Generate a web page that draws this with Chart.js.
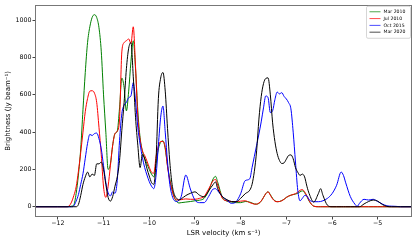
<!DOCTYPE html>
<html>
<head>
<meta charset="utf-8">
<script src="https://cdn.jsdelivr.net/npm/chart.js@4.4.0/dist/chart.umd.min.js"></script>
<style>
  html, body { margin: 0; padding: 0; background: #fff; }
  #wrap { width: 415px; height: 242px; }
</style>
</head>
<body>
<div id="wrap"><canvas id="spectrum" width="415" height="242"></canvas></div>
<script>
// LSR velocity grid (km/s), finer where the lines move fast
const velocity = [
  -12.5, -12.0, -11.8,
  -11.75, -11.7, -11.65, -11.6, -11.55, -11.5, -11.45, -11.4, -11.35, -11.3,
  -11.25, -11.2, -11.15, -11.1, -11.05, -11.0, -10.95, -10.9, -10.85, -10.8,
  -10.75, -10.7, -10.65, -10.6, -10.55, -10.5, -10.45, -10.4, -10.35, -10.3,
  -10.25, -10.2, -10.15, -10.1, -10.05, -10.0, -9.95, -9.9, -9.85, -9.8,
  -9.75, -9.7, -9.65, -9.6, -9.55, -9.5, -9.45, -9.4, -9.35, -9.3,
  -9.2, -9.1, -9.0, -8.9, -8.8, -8.7, -8.6, -8.55, -8.5, -8.4, -8.3, -8.2,
  -8.1, -8.0, -7.9, -7.8,
  -7.75, -7.7, -7.65, -7.6, -7.55, -7.5, -7.45, -7.4, -7.35, -7.3, -7.25, -7.2,
  -7.15, -7.1, -7.05, -7.0, -6.95, -6.9, -6.85, -6.8, -6.75, -6.7, -6.65, -6.6,
  -6.55, -6.5,
  -6.4, -6.3, -6.25, -6.2, -6.1, -6.0, -5.9, -5.8, -5.75, -5.7, -5.6, -5.5,
  -5.45, -5.4, -5.3, -5.2, -5.1, -5.0, -4.9, -4.8, -4.7, -4.6, -4.5, -4.25
];

const mar2010 = [
  0, 0, 0,
  1, 3, 10, 70, 170, 310, 520, 720, 880, 965,
  1015, 1030, 1015, 960, 834, 600, 400, 200, 230, 330,
  392, 405, 530, 690, 640, 514, 620, 780, 890, 740,
  514, 370, 300, 260, 230, 200, 175, 160, 230, 310,
  345, 354, 310, 220, 150, 90, 50, 28, 20, 22,
  25, 28, 32, 35, 45, 85, 150, 163, 130, 50, 30, 25,
  22, 22, 28, 25,
  20, 15, 14, 18, 30, 50, 70, 80, 65, 45, 32, 27,
  28, 33, 40, 50, 57, 62, 65, 68, 72, 80, 85, 75,
  55, 30,
  3, 0, 0, 0, 0, 0, 0, 0, 0, 0, 0, 0,
  0, 0, 0, 0, 0, 0, 0, 0, 0, 0, 0, 0
];

const jul2010 = [
  0, 0, 0,
  5, 25, 60, 106, 190, 290, 400, 510, 580, 620,
  622, 610, 560, 426, 280, 106, 50, 110, 220, 330,
  392, 405, 470, 830, 880, 890, 900, 875, 965, 750,
  480, 360, 300, 275, 245, 212, 185, 180, 270, 325,
  350, 350, 318, 215, 140, 90, 48, 37, 37, 38,
  42, 40, 40, 45, 55, 95, 140, 146, 115, 45, 32, 28,
  27, 30, 32, 22,
  18, 14, 14, 20, 30, 50, 70, 80, 62, 42, 30, 27,
  28, 32, 40, 50, 57, 62, 66, 70, 78, 88, 92, 80,
  58, 32,
  3, 0, 0, 0, 0, 0, 0, 0, 0, 0, 0, 0,
  0, 0, 0, 0, 0, 0, 0, 0, 0, 0, 0, 0
];

const oct2015 = [
  0, 0, 0,
  0, 0, 5, 30, 65, 120, 177, 260, 340, 388,
  382, 392, 395, 365, 310, 220, 130, 75, 58, 80,
  72, 140, 354, 500, 545, 560, 585, 595, 665, 567,
  426, 335, 265, 210, 170, 135, 110, 97, 170, 330,
  480, 540, 400, 240, 120, 60, 33, 28, 35, 55,
  170, 95, 36, 22, 22, 55, 95, 97, 85, 55, 35, 18,
  27, 70, 140, 150,
  210, 270, 330, 390, 455, 530, 594, 585, 505, 515, 575, 615,
  605, 612, 592, 578, 558, 525, 400, 240, 89, 32, 45, 60,
  58, 38,
  27, 27, 28, 32, 45, 70, 115, 186, 168, 128, 55, 14,
  2, 18, 40, 36, 40, 28, 15, 5, 3, 2, 0, 0
];

const mar2020 = [
  0, 0, 0,
  0, 0, 0, 0, 12, 60, 120, 160, 186, 160,
  175, 168, 230, 230, 240, 200, 120, 50, 30, 55,
  110, 160, 248, 410, 560, 740, 850, 880, 700, 480,
  330, 210, 280, 255, 205, 165, 130, 120, 260, 580,
  690, 720, 620, 420, 240, 120, 65, 45, 36, 42,
  60, 72, 80, 62, 53, 85, 120, 133, 95, 55, 38, 28,
  27, 45, 70, 89,
  120, 190, 300, 470, 590, 660, 688, 691, 600, 450, 350, 285,
  248, 232, 235, 255, 275, 278, 257, 210, 185, 168, 175, 160,
  110, 70,
  25, 70, 97, 62, 8, 0, 0, 0, 0, 0, 0, 0,
  0, 0, 15, 28, 36, 30, 12, 2, 0, 0, 0, 0
];

const seriesLabels = ['Mar 2010', 'Jul 2010', 'Oct 2015', 'Mar 2020'];
const seriesColors = ['#008000', '#ff0000', '#0000ff', '#000000'];
const xTicks = [-12, -11, -10, -9, -8, -7, -6, -5];
const yTicks = [0, 200, 400, 600, 800, 1000];

const FONT = 'DejaVu Sans';

function minus(v) {
  return v < 0 ? '\u2212' + Math.abs(v) : String(v);
}

function points(values) {
  return velocity.map((v, i) => ({ x: v, y: values[i] }));
}

// axes box drawn on top, like matplotlib spines
const frame = {
  id: 'frame',
  afterDraw(chart) {
    const { ctx, chartArea: a } = chart;
    ctx.save();
    ctx.strokeStyle = '#777';
    ctx.lineWidth = 1;
    ctx.strokeRect(Math.round(a.left) + 0.5, Math.round(a.top) + 0.5,
      Math.round(a.right - a.left) - 1, Math.round(a.bottom - a.top) - 1);
    ctx.restore();
  }
};

// small legend in the upper right corner of the plot
const cornerLegend = {
  id: 'cornerLegend',
  afterDraw(chart) {
    const { ctx, chartArea: a } = chart;
    const w = 44, h = 32;
    const x0 = a.right - w - 1.5, y0 = a.top + 1.5;
    ctx.save();
    ctx.fillStyle = 'rgba(255,255,255,0.8)';
    ctx.strokeStyle = '#ccc';
    ctx.lineWidth = 0.8;
    ctx.beginPath();
    ctx.roundRect(x0, y0, w, h, 1.5);
    ctx.fill();
    ctx.stroke();
    ctx.font = '4.6px "' + FONT + '"';
    ctx.textBaseline = 'middle';
    chart.data.datasets.forEach((ds, i) => {
      const y = y0 + 5.5 + i * 6.8;
      ctx.strokeStyle = ds.borderColor;
      ctx.globalAlpha = 0.7;
      ctx.lineWidth = 1;
      ctx.beginPath();
      ctx.moveTo(x0 + 3, y);
      ctx.lineTo(x0 + 14, y);
      ctx.stroke();
      ctx.globalAlpha = 1;
      ctx.fillStyle = '#000';
      ctx.fillText(ds.label, x0 + 17, y);
    });
    ctx.restore();
  }
};

const datasets = [mar2010, jul2010, oct2015, mar2020].map((vals, i) => ({
  label: seriesLabels[i],
  data: points(vals),
  borderColor: seriesColors[i],
  borderWidth: 1,
  pointRadius: 0,
  fill: false,
  cubicInterpolationMode: 'monotone',
  order: 4 - i
}));

new Chart(document.getElementById('spectrum'), {
  type: 'line',
  data: { datasets },
  options: {
    responsive: false,
    animation: false,
    devicePixelRatio: 1,
    layout: { padding: { top: 3, right: 3, left: 0, bottom: 0 } },
    plugins: { legend: { display: false }, tooltip: { enabled: false } },
    scales: {
      x: {
        type: 'linear',
        min: -12.5,
        max: -4.25,
        afterBuildTicks: s => { s.ticks = xTicks.map(v => ({ value: v })); },
        afterFit: s => { s.height = 25; },
        ticks: {
          callback: v => minus(v),
          font: { family: FONT, size: 6.3 },
          color: '#000',
          padding: 0,
          maxRotation: 0,
          autoSkip: false
        },
        grid: { drawOnChartArea: false, tickLength: 2.5, color: '#444' },
        border: { display: false },
        title: {
          display: true,
          text: 'LSR velocity (km s\u207B\u00B9)',
          font: { family: FONT, size: 7 },
          color: '#000',
          padding: { top: 0, bottom: 5 }
        }
      },
      y: {
        min: -55,
        max: 1083,
        afterBuildTicks: s => { s.ticks = yTicks.map(v => ({ value: v })); },
        afterFit: s => { s.width = 35; },
        ticks: {
          callback: v => minus(v),
          font: { family: FONT, size: 6.3 },
          color: '#000',
          padding: 1
        },
        grid: { drawOnChartArea: false, tickLength: 2.5, color: '#444' },
        border: { display: false },
        title: {
          display: true,
          text: 'Brightness (Jy beam\u207B\u00B9)',
          font: { family: FONT, size: 7 },
          color: '#000',
          padding: { top: 4, bottom: 0 }
        }
      }
    }
  },
  plugins: [frame, cornerLegend]
});
</script>
</body>
</html>
